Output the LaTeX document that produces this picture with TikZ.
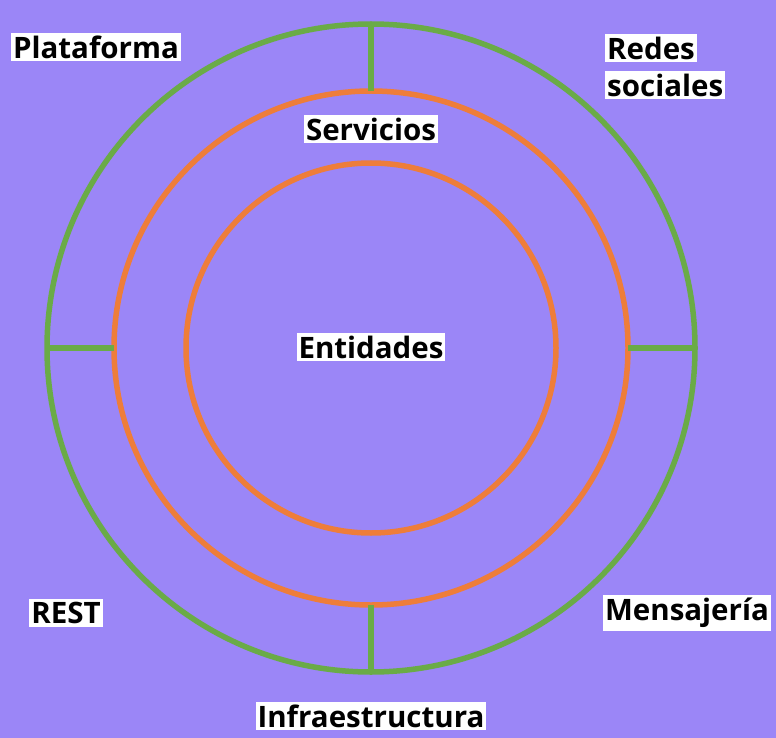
\documentclass[tikz,border=0pt]{standalone}
\usepackage{fontspec}
\setmainfont{Open Sans}
\definecolor{fondo}{HTML}{9B86F7}
\definecolor{verde}{HTML}{6AAB47}
\definecolor{naranja}{HTML}{EE7D3A}
\tikzset{
  capa/.style = {circle, draw=#1, line width=5.5pt, inner sep=0pt, outer sep=0pt},
  etiqueta/.style = {fill=white, text=black, inner xsep=2pt, inner ysep=3pt,
    font=\fontsize{29.5}{32}\selectfont\bfseries},
}
\begin{document}
\begin{tikzpicture}[x=1pt, y=-1pt]
    \fill[fondo] (0,0) rectangle (776,738);
    \useasboundingbox (0,0) rectangle (776,738);
    % capas
    \node[capa=verde, minimum size=648pt] (plataforma) at (371,348) {};
    \node[capa=naranja, minimum size=514pt] (servicios) at (371,348) {};
    \node[capa=naranja, minimum size=370pt] (entidades) at (371,348) {};
    % separadores
    \draw[verde, line width=5.5pt] (plataforma.north) -- (servicios.north);
    \draw[verde, line width=5.5pt] (plataforma.south) -- (servicios.south);
    \draw[verde, line width=5.5pt] (plataforma.west) -- (servicios.west);
    \draw[verde, line width=5.5pt] (plataforma.east) -- (servicios.east);
    % textos
    \node[etiqueta] (tplataforma) at (96,47) {Plataforma};
    \node[etiqueta, anchor=west] (tredes) at (605,48) {Redes};
    \node[etiqueta, anchor=west] (tsociales) at (605,85) {sociales};
    \node[etiqueta] (tservicios) at (371,129) {Servicios};
    \node[etiqueta] (tentidades) at (371,347) {Entidades};
    \node[etiqueta] (trest) at (66,613) {REST};
    \node[etiqueta] (tmensajeria) at (687,613) {Mensajería};
    \node[etiqueta] (tinfra) at (371,716) {Infraestructura};
\end{tikzpicture}
\end{document}
